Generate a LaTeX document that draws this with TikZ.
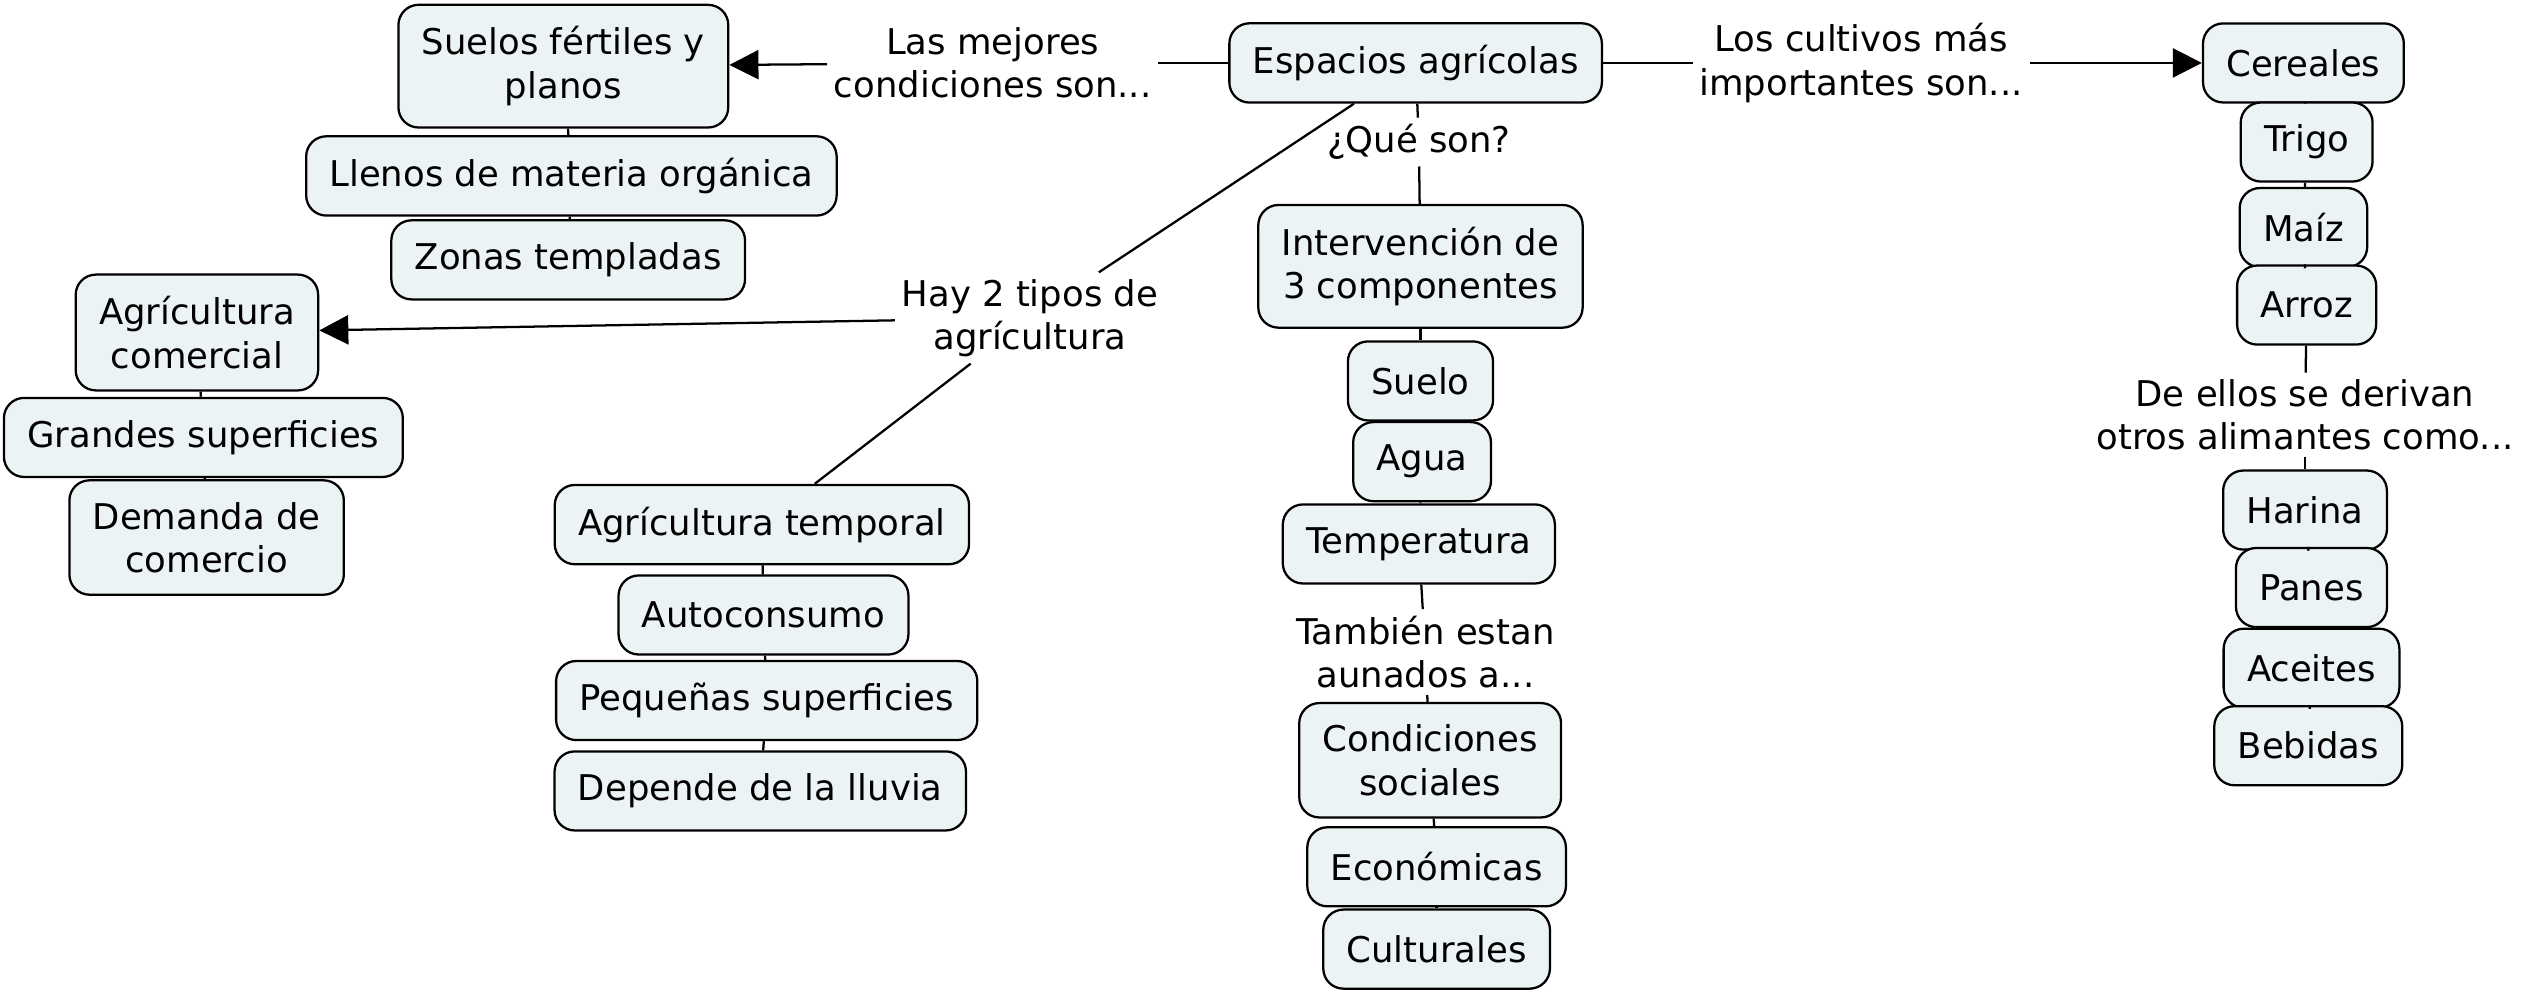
\documentclass[tikz,border=0pt]{standalone}
\usepackage{fontspec}
\setmainfont{DejaVu Sans}
\usetikzlibrary{arrows.meta}
\definecolor{relleno}{RGB}{236,243,245}
\tikzset{
	concepto/.style={draw, line width=0.8pt, rounded corners=0.25cm, fill=relleno, align=center,
		inner xsep=0.29cm, inner ysep=0.27cm, minimum height=0.98cm, font=\fontsize{12.5}{15.3}\selectfont},
	enlace/.style={align=center, inner sep=2pt, font=\fontsize{12.5}{15.3}\selectfont},
	flecha/.style={-{Triangle[length=0.36cm,width=0.36cm]}}
}
\begin{document}
\begin{tikzpicture}[x=0.02cm, y=-0.02cm, line width=0.8pt]
	\useasboundingbox (0,0) rectangle (1568,617);

% Concepto central
\node[concepto] (esp) at (877,39) {Espacios agrícolas};

% Condiciones
\node[enlace] (mejores) at (615,39) {Las mejores\\condiciones son...};
\node[concepto] (suelos) at (349,41) {Suelos fértiles y\\planos};
\node[concepto] (llenos) at (354,109) {Llenos de materia orgánica};
\node[concepto] (zonas) at (352,161) {Zonas templadas};

% Tipos de agricultura
\node[enlace] (hay) at (638,197) {Hay 2 tipos de\\agrícultura};
\node[concepto] (comercial) at (122,206) {Agrícultura\\comercial};
\node[concepto] (grandes) at (126,271) {Grandes superficies};
\node[concepto] (demanda) at (128,333) {Demanda de\\comercio};
\node[concepto] (temporal) at (472,325) {Agrícultura temporal};
\node[concepto] (auto) at (473,381) {Autoconsumo};
\node[concepto] (pequenas) at (475,434) {Pequeñas superficies};
\node[concepto] (lluvia) at (471,490) {Depende de la lluvia};

% Componentes
\node[enlace] (queson) at (879,88) {¿Qué son?};
\node[concepto] (interv) at (880,165) {Intervención de\\3 componentes};
\node[concepto] (suelo) at (880,236) {Suelo};
\node[concepto] (agua) at (881,286) {Agua};
\node[concepto] (temp) at (879,337) {Temperatura};
\node[enlace] (tambien) at (883,404) {También estan\\aunados a...};
\node[concepto] (sociales) at (886,471) {Condiciones\\sociales};
\node[concepto] (econ) at (890,537) {Económicas};
\node[concepto] (cult) at (890,588) {Culturales};

% Cultivos
\node[enlace] (cultivos) at (1153,39) {Los cultivos más\\importantes son...};
\node[concepto] (cereales) at (1427,39) {Cereales};
\node[concepto] (trigo) at (1429,88) {Trigo};
\node[concepto] (maiz) at (1427,141) {Maíz};
\node[concepto] (arroz) at (1429,189) {Arroz};
\node[enlace] (derivan) at (1428,257) {De ellos se derivan\\otros alimantes como...};
\node[concepto] (harina) at (1428,316) {Harina};
\node[concepto] (panes) at (1432,364) {Panes};
\node[concepto] (aceites) at (1432,414) {Aceites};
\node[concepto] (bebidas) at (1430,462) {Bebidas};

% Conectores
\draw (esp) -- (mejores);
\draw[flecha] (mejores) -- (suelos);
\draw (esp) -- (hay);
\draw[flecha] (hay) -- (comercial);
\draw (hay) -- (temporal);
\draw (esp) -- (queson);
\draw (queson) -- (interv);
\draw (temp) -- (tambien);
\draw (tambien) -- (sociales);
\draw (esp) -- (cultivos);
\draw[flecha] (cultivos) -- (cereales);
\draw (arroz) -- (derivan);
\draw (derivan) -- (harina);

\foreach \a/\b in {suelos/llenos, llenos/zonas, comercial/grandes, grandes/demanda,
		temporal/auto, auto/pequenas, pequenas/lluvia, interv/suelo, suelo/agua, agua/temp,
		sociales/econ, econ/cult, cereales/trigo, trigo/maiz, maiz/arroz,
		harina/panes, panes/aceites, aceites/bebidas}
	\draw (\a) -- (\b);
	\end{tikzpicture}
\end{document}
